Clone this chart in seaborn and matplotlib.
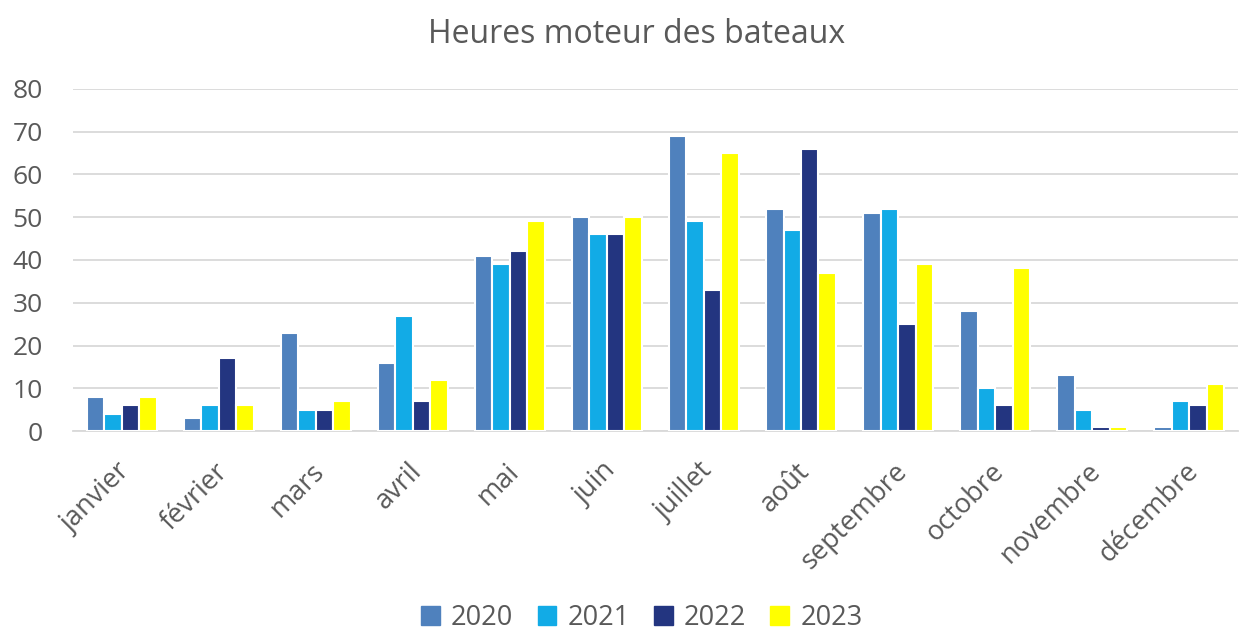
import pandas as pd
import matplotlib.pyplot as plt
import matplotlib.transforms as mtransforms
import seaborn as sns

# Engine hours per month, one list per year
mois = ["janvier", "février", "mars", "avril", "mai", "juin", "juillet",
        "août", "septembre", "octobre", "novembre", "décembre"]
h2020 = [8, 3, 23, 16, 41, 50, 69, 52, 51, 28, 13, 1]
h2021 = [4, 6, 5, 27, 39, 46, 49, 47, 52, 10, 5, 7]
h2022 = [6, 17, 5, 7, 42, 46, 33, 66, 25, 6, 1, 6]
h2023 = [8, 6, 7, 12, 49, 50, 65, 37, 39, 38, 1, 11]
annees = ["2020", "2021", "2022", "2023"]
couleurs = ["#4F81BD", "#12ABE6", "#233580", "#FFFF00"]

rows = []
for an, vals in zip(annees, [h2020, h2021, h2022, h2023]):
    for m, v in zip(mois, vals):
        rows.append({"mois": m, "annee": an, "heures": v})
df = pd.DataFrame(rows)

sns.set_style("white")
plt.rcParams["font.family"] = ["Open Sans", "DejaVu Sans"]
gris = "#595959"

fig = plt.figure(figsize=(12.39, 6.34), dpi=100)
ax = fig.add_axes([0.059, 0.320, 0.940, 0.540])

sns.barplot(data=df, x="mois", y="heures", hue="annee", order=mois,
            hue_order=annees, palette=couleurs, saturation=1, width=0.72,
            edgecolor="white", linewidth=1.5, ax=ax, zorder=3)

ax.set_ylim(0, 80)
ax.set_yticks(range(0, 81, 10))
ax.set_xlim(-0.5, 11.5)
ax.grid(axis="y", color="#D9D9D9", linewidth=1.3, zorder=0)
for s in ["top", "right", "left"]:
    ax.spines[s].set_visible(False)
ax.spines["bottom"].set_color("#D9D9D9")
ax.spines["bottom"].set_linewidth(1.3)
ax.set_xlabel("")
ax.set_ylabel("")
ax.tick_params(axis="both", length=0, colors=gris, labelsize=19)
ax.tick_params(axis="x", labelsize=19.5, pad=26)
ax.tick_params(axis="y", pad=22)
decal = mtransforms.ScaledTranslation(5 / 100, 0, fig.dpi_scale_trans)
for lab in ax.get_xticklabels():
    lab.set_rotation(45)
    lab.set_ha("right")
    lab.set_va("center")
    lab.set_rotation_mode("anchor")
    lab.set_transform(lab.get_transform() + decal)

fig.suptitle("Heures moteur des bateaux", x=0.514, y=0.972, fontsize=23,
             color=gris)

ax.get_legend().remove()
handles = [plt.Rectangle((0, 0), 1, 1, color=c) for c in couleurs]
fig.legend(handles, annees, loc="lower center", ncol=4, frameon=False,
           fontsize=19.5, labelcolor=gris, bbox_to_anchor=(0.518, -0.035),
           handlelength=0.7, handleheight=0.7, columnspacing=0.9,
           handletextpad=0.4)

fig.savefig("out.png", dpi=100)
